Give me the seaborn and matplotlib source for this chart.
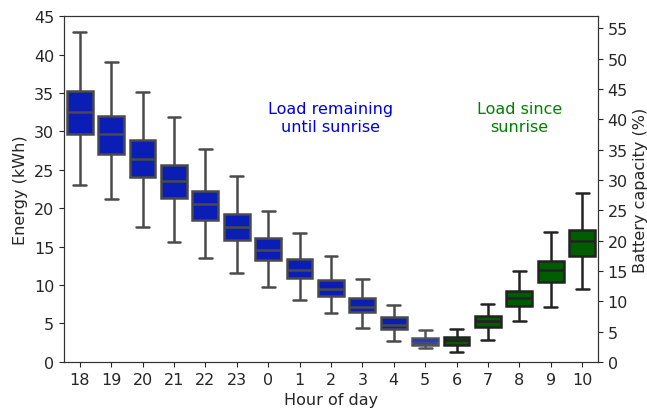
import pandas as pd
import matplotlib
matplotlib.use("Agg")
import matplotlib.pyplot as plt
import seaborn as sns

# Valores (kWh)
hours = ["18", "19", "20", "21", "22", "23", "0", "1", "2", "3", "4", "5", "6", "7", "8", "9", "10"]
whisker_low = [23.0, 21.2, 17.5, 15.6, 13.5, 11.6, 9.7, 8.0, 6.3, 4.4, 2.75, 1.8, 1.3, 2.9, 5.35, 7.2, 9.5]
q1 = [29.7, 27.1, 24.1, 21.3, 18.5, 15.9, 13.3, 10.9, 8.6, 6.5, 4.3, 2.2, 2.2, 4.5, 7.3, 10.45, 13.8]
median = [32.5, 29.7, 26.4, 23.5, 20.55, 17.55, 14.5, 12.0, 9.5, 7.1, 4.8, 2.8, 2.8, 5.3, 8.3, 11.9, 15.7]
q3 = [35.2, 32.0, 28.85, 25.65, 22.3, 19.3, 16.1, 13.4, 10.7, 8.3, 5.8, 3.1, 3.3, 6.0, 9.25, 13.1, 17.2]
whisker_high = [43.0, 39.1, 35.1, 31.9, 27.7, 24.2, 19.6, 16.8, 13.8, 10.8, 7.4, 4.1, 4.3, 7.5, 11.8, 16.9, 22.0]

remaining_hours = hours[:11]
mixed_hours = ["5"]
since_hours = hours[12:]

# Montar tabela longa (5 pontos por hora reproduzem min, Q1, mediana, Q3, max)
rows = []
for i, h in enumerate(hours):
    for v in [whisker_low[i], q1[i], median[i], q3[i], whisker_high[i]]:
        rows.append({"hour": h, "energy": v})
df = pd.DataFrame(rows)

sns.set_style("ticks")
plt.rcParams["font.family"] = ["DejaVu Sans"]
plt.rcParams["font.size"] = 11.5

fig, ax = plt.subplots(figsize=(6.47, 4.10), dpi=100)
fig.subplots_adjust(left=0.099, right=0.924, top=0.958, bottom=0.115)

common = dict(x="hour", y="energy", order=hours, whis=(0, 100), saturation=1,
              width=0.82, linewidth=1.8, ax=ax)

sns.boxplot(data=df[df["hour"].isin(remaining_hours)], color="#0a1db5",
            linecolor="#4a4a4a", **common)
sns.boxplot(data=df[df["hour"].isin(mixed_hours)], color="#3c4a8c",
            linecolor="#555555", medianprops={"color": "#2a3ab8"}, **common)
sns.boxplot(data=df[df["hour"].isin(since_hours)], color="#005c00",
            linecolor="#222222", **common)

ax.set_xlim(-0.5, len(hours) - 0.5)
ax.set_ylim(0, 45)
ax.set_yticks(range(0, 46, 5))
ax.set_xlabel("Hour of day")
ax.set_ylabel("Energy (kWh)")

# Textos
ax.text(8, 31.8, "Load remaining\nuntil sunrise", color="#0000e6", ha="center", va="center")
ax.text(14, 31.8, "Load since\nsunrise", color="#008000", ha="center", va="center")

# Eixo secundário: capacidade da bateria
ax2 = ax.twinx()
ax2.set_ylim(0, 57)
ax2.set_yticks(range(0, 56, 5))
ax2.set_ylabel("Battery capacity (%)")

for a in [ax, ax2]:
    for s in a.spines.values():
        s.set_visible(True)
        s.set_color("#333333")

plt.savefig("out.png", dpi=100)
